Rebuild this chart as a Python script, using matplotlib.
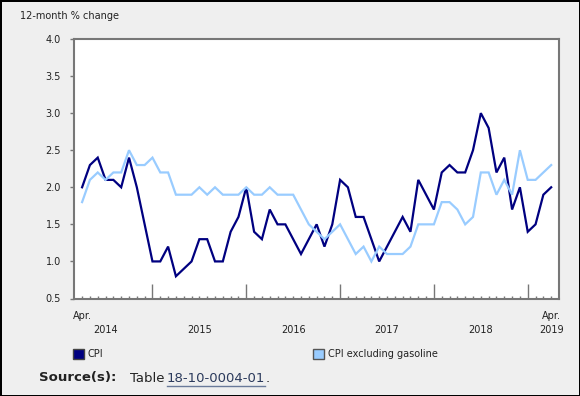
import numpy as np
import matplotlib
matplotlib.use('Agg')
import matplotlib.pyplot as plt
from matplotlib.patches import Rectangle
from matplotlib.lines import Line2D

# monthly, Apr 2014 .. Apr 2019
cpi = [2.0, 2.3, 2.4, 2.1, 2.1, 2.0, 2.4, 2.0, 1.5,
       1.0, 1.0, 1.2, 0.8, 0.9, 1.0, 1.3, 1.3, 1.0, 1.0, 1.4, 1.6,
       2.0, 1.4, 1.3, 1.7, 1.5, 1.5, 1.3, 1.1, 1.3, 1.5, 1.2, 1.5,
       2.1, 2.0, 1.6, 1.6, 1.3, 1.0, 1.2, 1.4, 1.6, 1.4, 2.1, 1.9,
       1.7, 2.2, 2.3, 2.2, 2.2, 2.5, 3.0, 2.8, 2.2, 2.4, 1.7, 2.0,
       1.4, 1.5, 1.9, 2.0]
cpi_ex_gas = [1.8, 2.1, 2.2, 2.1, 2.2, 2.2, 2.5, 2.3, 2.3,
              2.4, 2.2, 2.2, 1.9, 1.9, 1.9, 2.0, 1.9, 2.0, 1.9, 1.9, 1.9,
              2.0, 1.9, 1.9, 2.0, 1.9, 1.9, 1.9, 1.7, 1.5, 1.4, 1.3, 1.4,
              1.5, 1.3, 1.1, 1.2, 1.0, 1.2, 1.1, 1.1, 1.1, 1.2, 1.5, 1.5,
              1.5, 1.8, 1.8, 1.7, 1.5, 1.6, 2.2, 2.2, 1.9, 2.1, 1.9, 2.5,
              2.1, 2.1, 2.2, 2.3]
years = ['2014', '2015', '2016', '2017', '2018', '2019']
year_pos = [3, 15, 27, 39, 51, 60]
jan_pos = [9, 21, 33, 45, 57]
yticks = [0.5, 1.0, 1.5, 2.0, 2.5, 3.0, 3.5, 4.0]

x = np.arange(len(cpi))
txt = '#222222'
plt.rcParams['font.family'] = 'DejaVu Sans'

fig = plt.figure(figsize=(5.8, 3.96), dpi=100)
fig.patch.set_facecolor('#efefef')
fig.patch.set_edgecolor('black')
fig.patch.set_linewidth(2)
ax = fig.add_axes([73.5 / 580, 1 - 298.5 / 396, (559 - 73.5) / 580, (298.5 - 39) / 396])
ax.set_facecolor('white')

ax.plot(x, cpi, color='#000080', lw=1.6, solid_joinstyle='miter')
ax.plot(x, cpi_ex_gas, color='#99ccff', lw=1.6, solid_joinstyle='miter')

ax.set_xlim(-1.1, 61)
ax.set_ylim(0.5, 4.0)
ax.set_yticks(yticks)
ax.set_yticklabels(['%.1f' % v for v in yticks], fontsize=7, color=txt)
ax.tick_params(axis='y', direction='out', length=3, width=1, color='#777777', pad=6)

ax.set_xticks(jan_pos)
ax.set_xticklabels([])
ax.set_xticks(x, minor=True)
ax.tick_params(axis='x', which='major', direction='in', length=11, width=1, color='#777777')
ax.tick_params(axis='x', which='minor', direction='in', length=2.5, width=1, color='#777777')

for s in ax.spines.values():
    s.set_color('#777777')
    s.set_linewidth(1.5)

tr = ax.get_xaxis_transform()
for p in [0, 60]:
    ax.text(p, -0.068, 'Apr.', transform=tr, ha='center', va='center', fontsize=7, color=txt)
for p, lab in zip(year_pos, years):
    ax.text(p, -0.122, lab, transform=tr, ha='center', va='center', fontsize=7, color=txt)

fig.text(20 / 580, 1 - 16 / 396, '12-month % change', fontsize=7, color=txt, va='center')

# legend
def px(xp, yp):
    return xp / 580, 1 - yp / 396

fig.add_artist(Rectangle(px(73, 359), 11 / 580, 10 / 396, transform=fig.transFigure,
                         facecolor='#000080', edgecolor='#444444', lw=1))
fig.text(*px(88, 354), 'CPI', fontsize=7, color=txt, va='center')
fig.add_artist(Rectangle(px(313, 359), 11 / 580, 10 / 396, transform=fig.transFigure,
                         facecolor='#99ccff', edgecolor='#555555', lw=1))
fig.text(*px(328, 354), 'CPI excluding gasoline', fontsize=7, color=txt, va='center')

# source
fig.text(*px(39, 378), 'Source(s):', fontsize=9.5, fontweight='bold', color=txt, va='center')
fig.text(*px(130, 378), 'Table', fontsize=9.5, color=txt, va='center')
link = fig.text(*px(167, 378), '18-10-0004-01', fontsize=9.5, color='#2b3a5c', va='center')
fig.canvas.draw()
bb = link.get_window_extent(fig.canvas.get_renderer())
fig.text(bb.x1 / 580, 1 - 378 / 396, '.', fontsize=9.5, color=txt, va='center')
uy = bb.y0 - 1
fig.add_artist(Line2D([bb.x0 / 580, bb.x1 / 580], [uy / 396, uy / 396],
                      transform=fig.transFigure, color='#6a7a9a', lw=1))

fig.savefig('out.png', dpi=100, facecolor=fig.get_facecolor(), edgecolor=fig.get_edgecolor())
